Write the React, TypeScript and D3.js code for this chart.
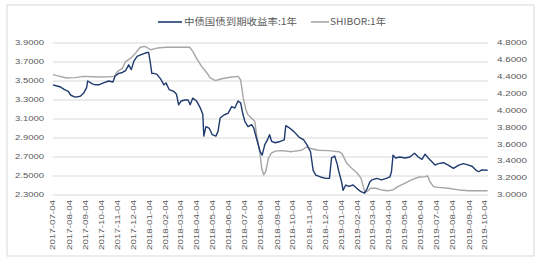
import React from "react";
import * as d3 from "d3";

const seriesNames = ["中债国债到期收益率:1年", "SHIBOR:1年"];

const xTickLabels = [
  "2017-07-04", "2017-08-04", "2017-09-04", "2017-10-04", "2017-11-04", "2017-12-04",
  "2018-01-04", "2018-02-04", "2018-03-04", "2018-04-04", "2018-05-04", "2018-06-04",
  "2018-07-04", "2018-08-04", "2018-09-04", "2018-10-04", "2018-11-04", "2018-12-04",
  "2019-01-04", "2019-02-04", "2019-03-04", "2019-04-04", "2019-05-04", "2019-06-04",
  "2019-07-04", "2019-08-04", "2019-09-04", "2019-10-04",
];

const leftTicks = [2.3, 2.5, 2.7, 2.9, 3.1, 3.3, 3.5, 3.7, 3.9];
const rightTicks = [3.0, 3.2, 3.4, 3.6, 3.8, 4.0, 4.2, 4.4, 4.6, 4.8];

// 中债国债到期收益率:1年 (left axis)
const cgbDates = [
  "2017-07-04", "2017-07-10", "2017-07-17", "2017-07-26", "2017-08-02", "2017-08-07", "2017-08-15",
  "2017-08-25", "2017-08-31", "2017-09-06", "2017-09-08", "2017-09-17", "2017-09-23", "2017-09-29",
  "2017-10-08", "2017-10-18", "2017-10-26", "2017-10-30", "2017-11-06", "2017-11-13", "2017-11-19",
  "2017-11-25", "2017-11-30", "2017-12-05", "2017-12-11", "2017-12-20", "2017-12-30", "2018-01-02",
  "2018-01-05", "2018-01-08", "2018-01-12", "2018-01-18", "2018-01-25", "2018-01-31", "2018-02-04",
  "2018-02-10", "2018-02-19", "2018-02-24", "2018-02-28", "2018-03-05", "2018-03-12", "2018-03-18",
  "2018-03-22", "2018-03-27", "2018-04-03", "2018-04-10", "2018-04-15", "2018-04-17", "2018-04-21",
  "2018-04-27", "2018-05-03", "2018-05-10", "2018-05-14", "2018-05-18", "2018-05-26", "2018-06-02",
  "2018-06-09", "2018-06-15", "2018-06-21", "2018-06-26", "2018-06-30", "2018-07-04", "2018-07-10",
  "2018-07-17", "2018-07-21", "2018-07-26", "2018-08-02", "2018-08-06", "2018-08-11", "2018-08-16",
  "2018-08-20", "2018-08-24", "2018-08-31", "2018-09-07", "2018-09-17", "2018-09-20", "2018-09-26",
  "2018-10-05", "2018-10-15", "2018-10-24", "2018-10-30", "2018-11-06", "2018-11-11", "2018-11-16",
  "2018-11-25", "2018-12-05", "2018-12-12", "2018-12-16", "2018-12-22", "2018-12-27", "2018-12-30",
  "2019-01-04", "2019-01-07", "2019-01-12", "2019-01-18", "2019-01-26", "2019-02-02", "2019-02-10",
  "2019-02-17", "2019-02-22", "2019-02-27", "2019-03-03", "2019-03-12", "2019-03-21", "2019-03-30",
  "2019-04-06", "2019-04-09", "2019-04-12", "2019-04-17", "2019-04-25", "2019-05-05", "2019-05-14",
  "2019-05-23", "2019-05-30", "2019-06-06", "2019-06-12", "2019-06-18", "2019-06-25", "2019-07-01",
  "2019-07-07", "2019-07-17", "2019-07-26", "2019-08-05", "2019-08-15", "2019-08-24", "2019-09-03",
  "2019-09-10", "2019-09-16", "2019-09-22", "2019-09-28", "2019-10-09",
];
const cgbValues = [
  3.46, 3.45, 3.44, 3.41, 3.39, 3.35, 3.33,
  3.34, 3.37, 3.43, 3.50, 3.47, 3.46, 3.46,
  3.48, 3.50, 3.49, 3.55, 3.58, 3.59, 3.61,
  3.67, 3.62, 3.71, 3.76, 3.78, 3.80, 3.80,
  3.70, 3.58, 3.58, 3.57, 3.52, 3.46, 3.48,
  3.41, 3.39, 3.36, 3.25, 3.29, 3.30, 3.30,
  3.25, 3.32, 3.29, 3.22, 3.15, 2.92, 3.02,
  3.005, 2.935, 2.92, 2.97, 3.11, 3.145, 3.16,
  3.23, 3.215, 3.29, 3.27, 3.16, 3.075, 3.02,
  3.04, 3.005, 2.90, 2.76, 2.72, 2.83, 2.88,
  2.935, 2.865, 2.85, 2.86, 2.88, 3.03, 3.01,
  2.97, 2.91, 2.88, 2.83, 2.755, 2.56, 2.51,
  2.49, 2.475, 2.475, 2.69, 2.71, 2.62, 2.545,
  2.44, 2.35, 2.405, 2.39, 2.405, 2.37, 2.335,
  2.32, 2.37, 2.44, 2.46, 2.475, 2.46, 2.475,
  2.49, 2.545, 2.72, 2.69, 2.70, 2.69, 2.70,
  2.74, 2.70, 2.675, 2.73, 2.69, 2.65, 2.615,
  2.63, 2.64, 2.615, 2.58, 2.615, 2.63, 2.615,
  2.60, 2.565, 2.545, 2.565, 2.56,
];

// SHIBOR:1年 (right axis)
const shiborDates = [
  "2017-07-04", "2017-07-13", "2017-07-30", "2017-08-15", "2017-08-31", "2017-10-01", "2017-10-18",
  "2017-10-28", "2017-11-04", "2017-11-13", "2017-11-19", "2017-11-29", "2017-12-08", "2017-12-17",
  "2017-12-26", "2018-01-06", "2018-01-18", "2018-02-04", "2018-02-23", "2018-03-12", "2018-03-21",
  "2018-03-27", "2018-04-03", "2018-04-13", "2018-04-23", "2018-04-29", "2018-05-09", "2018-05-21",
  "2018-06-06", "2018-06-21", "2018-06-26", "2018-07-01", "2018-07-06", "2018-07-10", "2018-07-17",
  "2018-07-23", "2018-07-26", "2018-08-02", "2018-08-05", "2018-08-09", "2018-08-13", "2018-08-18",
  "2018-08-24", "2018-08-31", "2018-09-13", "2018-10-01", "2018-10-20", "2018-10-30", "2018-11-06",
  "2018-11-21", "2018-12-10", "2018-12-30", "2019-01-05", "2019-01-14", "2019-01-24", "2019-02-03",
  "2019-02-10", "2019-02-17", "2019-02-22", "2019-02-28", "2019-03-10", "2019-03-21", "2019-04-02",
  "2019-04-12", "2019-04-21", "2019-05-05", "2019-05-17", "2019-05-30", "2019-06-12", "2019-06-17",
  "2019-06-21", "2019-06-28", "2019-07-07", "2019-07-26", "2019-08-15", "2019-09-03", "2019-09-22",
  "2019-10-09",
];
const shiborValues = [
  4.425, 4.41, 4.386, 4.39, 4.405, 4.397, 4.40,
  4.405, 4.465, 4.50, 4.58, 4.62, 4.68, 4.75,
  4.76, 4.72, 4.74, 4.75, 4.75, 4.75, 4.75,
  4.70, 4.62, 4.52, 4.445, 4.386, 4.355, 4.377,
  4.394, 4.405, 4.365, 4.15, 4.01, 3.95, 3.91,
  3.87, 3.73, 3.48, 3.32, 3.24, 3.28, 3.44,
  3.50, 3.52, 3.525, 3.513, 3.53, 3.57, 3.55,
  3.53, 3.525, 3.513, 3.49, 3.375, 3.315, 3.257,
  3.20, 3.04, 3.04, 3.08, 3.08, 3.06, 3.05,
  3.06, 3.10, 3.14, 3.18, 3.21, 3.217, 3.225,
  3.16, 3.10, 3.09, 3.08, 3.06, 3.05, 3.05,
  3.05,
];

const parse = d3.timeParse("%Y-%m-%d");

export default function App() {
  const x = d3
    .scaleTime()
    .domain([parse("2017-07-04")!, parse("2019-10-04")!])
    .range([53, 485]);
  const yL = d3.scaleLinear().domain([2.3, 3.9]).range([195, 43]);
  const yR = d3.scaleLinear().domain([3.0, 4.8]).range([195, 43]);
  const plotLeft = 53;
  const plotRight = 488;

  const cgb = cgbDates.map((d, i) => ({ d: parse(d)!, v: cgbValues[i] }));
  const shibor = shiborDates.map((d, i) => ({ d: parse(d)!, v: shiborValues[i] }));

  const lineL = d3
    .line<{ d: Date; v: number }>()
    .x((p) => x(p.d))
    .y((p) => yL(p.v));
  const lineR = d3
    .line<{ d: Date; v: number }>()
    .x((p) => x(p.d))
    .y((p) => yR(p.v));

  const fmt = d3.format(".4f");
  const tickFont = "'Liberation Sans', Arial, sans-serif";
  const tickColor = "#595959";

  return (
    <svg
      width={544}
      height={265}
      style={{ position: "absolute", left: 0, top: 0, background: "#fff" }}
    >
      <rect x={7} y={5} width={527} height={251} fill="#fff" stroke="#D9D9D9" strokeWidth={1} />

      {leftTicks.map((t) => (
        <line key={"g" + t} x1={plotLeft} x2={plotRight} y1={yL(t)} y2={yL(t)} stroke="#D9D9D9" strokeWidth={1} />
      ))}

      {leftTicks.map((t) => (
        <text
          key={"l" + t}
          x={44}
          y={yL(t)}
          dy="0.35em"
          textAnchor="end"
          fontSize={6.5}
          fontFamily={tickFont}
          fill={tickColor}
          textLength={29}
          lengthAdjust="spacingAndGlyphs"
        >
          {fmt(t)}
        </text>
      ))}

      {rightTicks.map((t) => (
        <text
          key={"r" + t}
          x={497}
          y={yR(t)}
          dy="0.35em"
          textAnchor="start"
          fontSize={6.5}
          fontFamily={tickFont}
          fill={tickColor}
          textLength={30}
          lengthAdjust="spacingAndGlyphs"
        >
          {fmt(t)}
        </text>
      ))}

      {xTickLabels.map((lab) => {
        const px = x(parse(lab)!);
        return (
          <text
            key={lab}
            transform={`translate(${px},200) rotate(-90)`}
            dy="0.35em"
            textAnchor="end"
            fontSize={6.5}
            fontFamily={tickFont}
            fill={tickColor}
            textLength={50}
            lengthAdjust="spacingAndGlyphs"
          >
            {lab}
          </text>
        );
      })}

      <path d={lineR(shibor) || ""} fill="none" stroke="#A6A6A6" strokeWidth={1.4} strokeLinejoin="round" />
      <path d={lineL(cgb) || ""} fill="none" stroke="#1F3A6E" strokeWidth={1.4} strokeLinejoin="round" />

      <g fontFamily="'Noto Sans CJK SC', 'Liberation Sans', sans-serif" fontSize={9} fill={tickColor}>
        <line x1={158} x2={182} y1={22} y2={22} stroke="#1F3A6E" strokeWidth={1.6} />
        <text x={184} y={25} textLength={113} lengthAdjust="spacingAndGlyphs">
          {seriesNames[0]}
        </text>
        <line x1={311} x2={329} y1={22} y2={22} stroke="#A6A6A6" strokeWidth={1.6} />
        <text x={330} y={25} textLength={56} lengthAdjust="spacingAndGlyphs">
          {seriesNames[1]}
        </text>
      </g>
    </svg>
  );
}
